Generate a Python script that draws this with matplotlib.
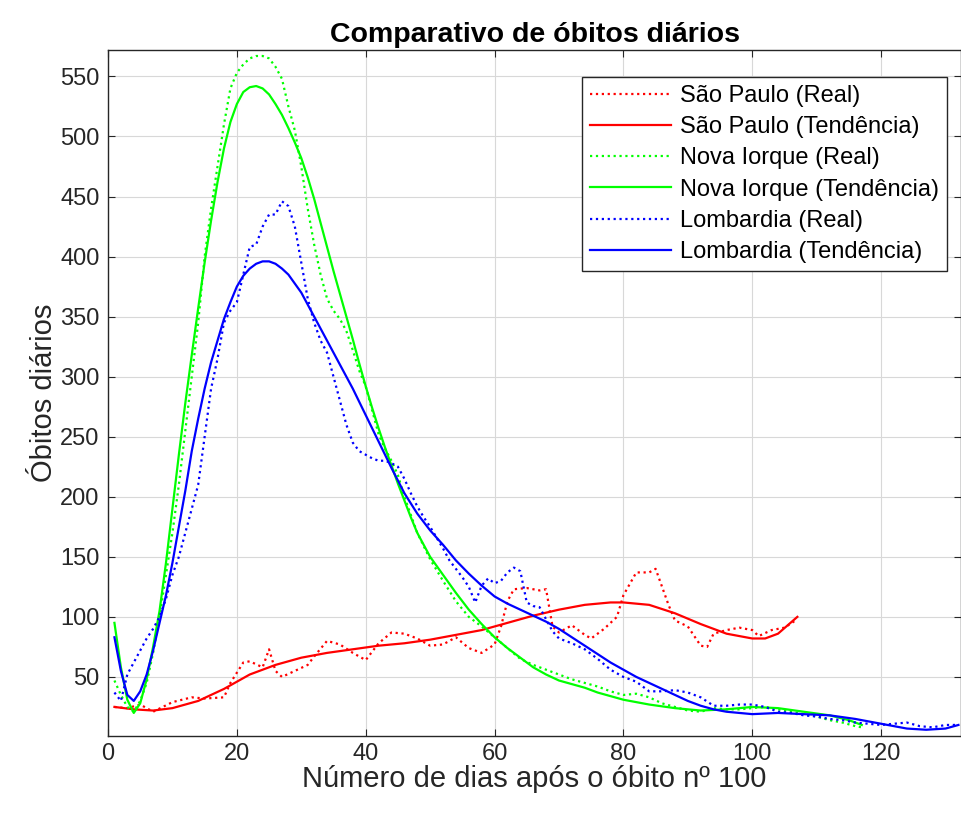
import numpy as np
import matplotlib.pyplot as plt

plt.rcParams['font.family'] = ['Liberation Sans', 'DejaVu Sans']

# São Paulo - real (média móvel) e tendência
sp_real_x = [1, 3, 5, 7, 10, 13, 15, 18, 19, 21, 22, 24, 25, 26, 27, 29, 31, 32, 34, 36, 38, 40,
             42, 44, 46, 48, 50, 52, 54, 56, 58, 60, 61, 62, 63, 65, 67, 68, 69, 70, 72, 74, 75,
             77, 79, 80, 82, 84, 85, 87, 88, 90, 92, 93, 94, 96, 98, 100, 101, 103, 105, 107]
sp_real_y = [25, 24, 27, 21, 29, 33, 32, 33, 45, 62, 63, 58, 73, 55, 50, 55, 60, 67, 80, 77, 70, 64,
             78, 87, 86, 82, 76, 77, 83, 74, 70, 77, 92, 113, 123, 124, 122, 123, 92, 87, 93, 85, 82,
             90, 100, 118, 137, 137, 140, 110, 97, 92, 76, 75, 86, 89, 91, 89, 84, 89, 91, 98]
sp_tend_x = [1, 4, 7, 10, 14, 18, 22, 26, 30, 34, 38, 42, 46, 50, 54, 58, 62, 66, 70, 74, 78, 80,
             84, 88, 92, 96, 100, 102, 104, 107]
sp_tend_y = [25, 23, 22, 24, 30, 40, 52, 60, 66, 70, 73, 76, 78, 81, 85, 89, 95, 101, 106, 110, 112,
             112, 110, 103, 94, 86, 82, 82, 86, 100]

# Nova Iorque
ny_real_x = list(range(1, 47)) + [48, 50, 52, 54, 56, 58, 60, 62, 64, 66, 68, 70, 72, 74, 76, 78, 80,
                                  82, 84, 86, 88, 90, 92, 94, 96, 98, 100, 102, 104, 106, 108, 110,
                                  112, 114, 116, 117]
ny_real_y = [47, 35, 25, 21, 30, 45, 70, 100, 135, 170, 210, 255, 300, 345, 400, 440, 475, 510, 540,
             553, 560, 565, 567, 567, 565, 558, 548, 525, 505, 475, 440, 410, 385, 365, 355, 348, 338,
             322, 305, 292, 272, 252, 240, 230, 218, 200,
             170, 148, 130, 113, 100, 92, 83, 74, 65, 60, 56, 52, 48, 45, 42, 38, 35, 36, 33, 28, 25,
             22, 21, 24, 23, 23, 24, 25, 23, 21, 19, 17, 14, 12, 9, 8]
ny_tend_x = list(range(1, 49)) + [50, 52, 54, 56, 58, 60, 62, 64, 66, 68, 70, 72, 74, 76, 78, 80, 84,
                                  88, 92, 96, 100, 104, 108, 112, 115, 117]
ny_tend_y = [95, 58, 31, 20, 28, 48, 75, 105, 145, 190, 235, 278, 318, 357, 395, 430, 462, 490, 512,
             527, 537, 541, 542, 540, 535, 527, 518, 507, 495, 482, 466, 448, 428, 408, 388, 369, 350,
             331, 311, 292, 274, 257, 241, 226, 211, 197, 183, 170,
             150, 135, 120, 106, 94, 83, 74, 66, 58, 52, 47, 44, 41, 37, 34, 31, 27, 24, 22, 23, 25,
             24, 21, 18, 14, 10]

# Lombardia
lo_real_x = list(range(1, 71)) + [72, 74, 76, 78, 80, 82, 84, 86, 88, 90, 92, 94, 96, 98, 100, 102,
                                  104, 106, 108, 110, 112, 114, 116, 118, 120, 122, 124, 126, 128,
                                  130, 132]
lo_real_y = [37, 30, 52, 62, 72, 82, 90, 100, 115, 135, 150, 170, 190, 210, 250, 290, 315, 345, 355,
             362, 385, 408, 410, 425, 435, 435, 446, 442, 425, 395, 365, 345, 330, 320, 300, 280, 260,
             245, 238, 235, 232, 230, 230, 228, 225, 215, 203, 192, 183, 175, 166, 157, 147, 140, 133,
             125, 112, 126, 132, 128, 130, 137, 141, 138, 112, 109, 108, 98, 88, 82,
             78, 73, 65, 56, 50, 46, 38, 38, 39, 37, 33, 26, 26, 27, 27, 25, 21, 20, 18, 17, 15, 14,
             12, 11, 10, 11, 12, 9, 8, 10, 10]
lo_tend_x = [1, 2, 3, 4, 5, 6, 7, 8, 9, 10, 11, 12, 13, 14, 15, 16, 17, 18, 19, 20, 21, 22, 23, 24, 25,
             26, 27, 28, 30, 32, 34, 36, 38, 40, 42, 44, 46, 48, 50, 52, 54, 56, 58, 60, 62, 64, 66,
             68, 70, 72, 74, 76, 78, 80, 82, 84, 86, 88, 90, 92, 94, 96, 98, 100, 104, 108, 112, 116,
             120, 124, 127, 130, 132]
lo_tend_y = [83, 55, 35, 30, 38, 52, 72, 95, 118, 145, 175, 205, 238, 265, 290, 312, 330, 348, 362,
             375, 384, 390, 394, 396, 396, 394, 390, 385, 370, 350, 330, 310, 290, 268, 246, 224, 203,
             186, 172, 160, 147, 136, 126, 117, 111, 106, 101, 96, 90, 83, 76, 69, 62, 56, 50, 45, 40,
             35, 30, 26, 23, 21, 20, 19, 20, 19, 18, 15, 11, 7, 6, 7, 10]

labels = ['São Paulo (Real)', 'São Paulo (Tendência)', 'Nova Iorque (Real)',
          'Nova Iorque (Tendência)', 'Lombardia (Real)', 'Lombardia (Tendência)']

fig = plt.figure(figsize=(9.62, 8.16), dpi=100)
ax = fig.add_axes([108 / 962, 80 / 816, 853 / 962, 686 / 816])

lw = 1.6
ax.plot(sp_real_x, sp_real_y, ':', color='r', lw=lw, label=labels[0])
ax.plot(sp_tend_x, sp_tend_y, '-', color='r', lw=lw, label=labels[1])
ax.plot(ny_real_x, ny_real_y, ':', color=(0, 1, 0), lw=lw, label=labels[2])
ax.plot(ny_tend_x, ny_tend_y, '-', color=(0, 1, 0), lw=lw, label=labels[3])
ax.plot(lo_real_x, lo_real_y, ':', color='b', lw=lw, label=labels[4])
ax.plot(lo_tend_x, lo_tend_y, '-', color='b', lw=lw, label=labels[5])

ax.set_xlim(0, 132.4)
ax.set_ylim(0.8, 572)
ax.set_xticks(np.arange(0, 121, 20))
ax.set_yticks(np.arange(50, 551, 50))
ax.grid(True, color='#d8d8d8', linewidth=0.8)
ax.set_axisbelow(True)
ax.tick_params(direction='in', top=True, right=True, labelsize=17, colors='#262626',
               length=5, pad=5)
ax.tick_params(axis='y', pad=6)
for s in ax.spines.values():
    s.set_color('#262626')
    s.set_linewidth(1.0)

ax.set_title('Comparativo de óbitos diários', fontsize=20.5, fontweight='bold', pad=6)
ax.set_xlabel('Número de dias após o óbito nº 100', fontsize=21, color='#262626', labelpad=0)
ax.set_ylabel('Óbitos diários', fontsize=21, color='#262626', labelpad=2)

leg = ax.legend(loc='upper right', bbox_to_anchor=(0.984, 0.961), borderaxespad=0,
                fontsize=17, handlelength=3.4, labelspacing=0.39, fancybox=False,
                edgecolor='#262626', framealpha=1, borderpad=0.35, handletextpad=0.4)
leg.get_frame().set_linewidth(1.0)

fig.savefig('out.png', dpi=100)
